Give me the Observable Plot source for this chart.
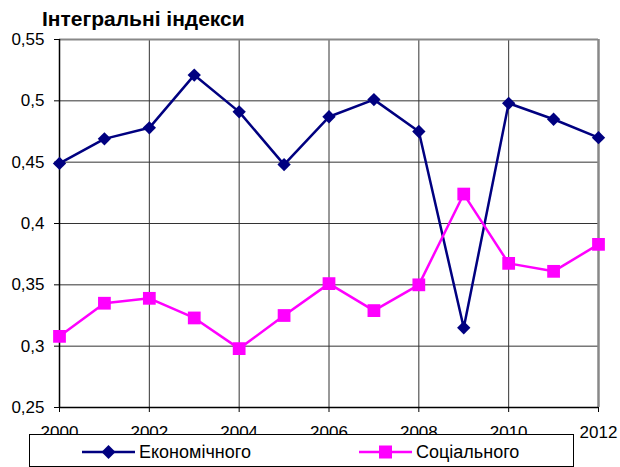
<!DOCTYPE html>
<html>
<head>
<meta charset="utf-8">
<script src="https://cdn.jsdelivr.net/npm/d3@7"></script>
<script src="https://cdn.jsdelivr.net/npm/@observablehq/plot@0.6"></script>
<style>
  html, body { margin: 0; padding: 0; background: #fff; }
  #wrap { position: relative; width: 620px; height: 467px; overflow: hidden; font-family: "Liberation Sans", Arial, sans-serif; }
  #title { position: absolute; left: 42px; top: 8px; font-size: 21px; line-height: 21px; font-weight: bold; color: #000; white-space: nowrap; }
  #chart { position: absolute; left: 0; top: 0; }
  #legend { position: absolute; left: 29px; top: 434px; width: 545px; height: 33px; box-sizing: border-box; border: 1px solid #000; background: #fff; }
  .item { position: absolute; top: 1.5px; height: 31px; display: flex; align-items: center; font-size: 18px; line-height: 18px; color: #000; white-space: nowrap; }
  .item svg { margin-right: 3px; }
</style>
</head>
<body>
<div id="wrap">
  <div id="chart"></div>
  <div id="title"></div>
  <div id="legend"></div>
</div>
<script>
const titleText = "Інтегральні індекси";
const years = [2000, 2001, 2002, 2003, 2004, 2005, 2006, 2007, 2008, 2009, 2010, 2011, 2012];
const economic = [0.449, 0.469, 0.478, 0.521, 0.491, 0.448, 0.487, 0.501, 0.475, 0.315, 0.498, 0.485, 0.470];
const social = [0.308, 0.335, 0.339, 0.323, 0.298, 0.325, 0.351, 0.329, 0.350, 0.424, 0.3675, 0.361, 0.383];
const seriesNames = ["Економічного", "Соціального"];
const xTicks = [2000, 2002, 2004, 2006, 2008, 2010, 2012];
const yTicks = [0.25, 0.3, 0.35, 0.4, 0.45, 0.5, 0.55];

const navy = "#000080";
const magenta = "#FF00FF";

const econData = years.map((year, i) => ({year, value: economic[i]}));
const socData = years.map((year, i) => ({year, value: social[i]}));

document.getElementById("title").textContent = titleText;

const chart = Plot.plot({
  width: 620,
  height: 467,
  marginLeft: 59,
  marginRight: 22,
  marginTop: 39,
  marginBottom: 60,
  style: {fontFamily: "'Liberation Sans', Arial, sans-serif", fontSize: "17px", color: "#000", background: "transparent", overflow: "visible"},
  x: {domain: [2000, 2012]},
  y: {domain: [0.25, 0.55]},
  marks: [
    Plot.gridX(xTicks, {stroke: "#333", strokeOpacity: 1, strokeWidth: 1}),
    Plot.gridY(yTicks, {stroke: "#333", strokeOpacity: 1, strokeWidth: 1}),
    Plot.ruleY([0.55], {stroke: "#888", strokeWidth: 2}),
    Plot.ruleX([2012], {stroke: "#888", strokeWidth: 2.5}),
    Plot.ruleX([2000], {stroke: "#000", strokeWidth: 1.5}),
    Plot.ruleY([0.25], {stroke: "#000", strokeWidth: 1.5}),
    Plot.axisY(yTicks, {tickSize: 5, tickPadding: 10, tickFormat: d => String(d).replace(".", ","), label: null}),
    Plot.axisX(xTicks, {tickSize: 5, tickPadding: 13.5, tickFormat: d => String(d), label: null}),
    Plot.line(econData, {x: "year", y: "value", stroke: navy, strokeWidth: 2.5}),
    Plot.dot(econData, {x: "year", y: "value", symbol: "diamond2", r: 6, fill: navy, stroke: "none"}),
    Plot.line(socData, {x: "year", y: "value", stroke: magenta, strokeWidth: 2.5}),
    Plot.dot(socData, {x: "year", y: "value", symbol: "square", r: 7.2, fill: magenta, stroke: "none"})
  ]
});
document.getElementById("chart").appendChild(chart);

// Legend
const legend = document.getElementById("legend");
const items = [
  {name: seriesNames[0], color: navy, sym: "diamond", left: 52},
  {name: seriesNames[1], color: magenta, sym: "square", left: 329}
];
for (const it of items) {
  const div = document.createElement("div");
  div.className = "item";
  div.style.left = it.left + "px";
  const shape = it.sym === "diamond"
    ? `<polygon points="26.5,9 33.5,16 26.5,23 19.5,16" fill="${it.color}"/>`
    : `<rect x="20" y="9.5" width="13" height="13" fill="${it.color}"/>`;
  div.innerHTML = `<svg width="54" height="32"><line x1="0" x2="53" y1="16" y2="16" stroke="${it.color}" stroke-width="2.5"/>${shape}</svg><span>${it.name}</span>`;
  legend.appendChild(div);
}
</script>
</body>
</html>
